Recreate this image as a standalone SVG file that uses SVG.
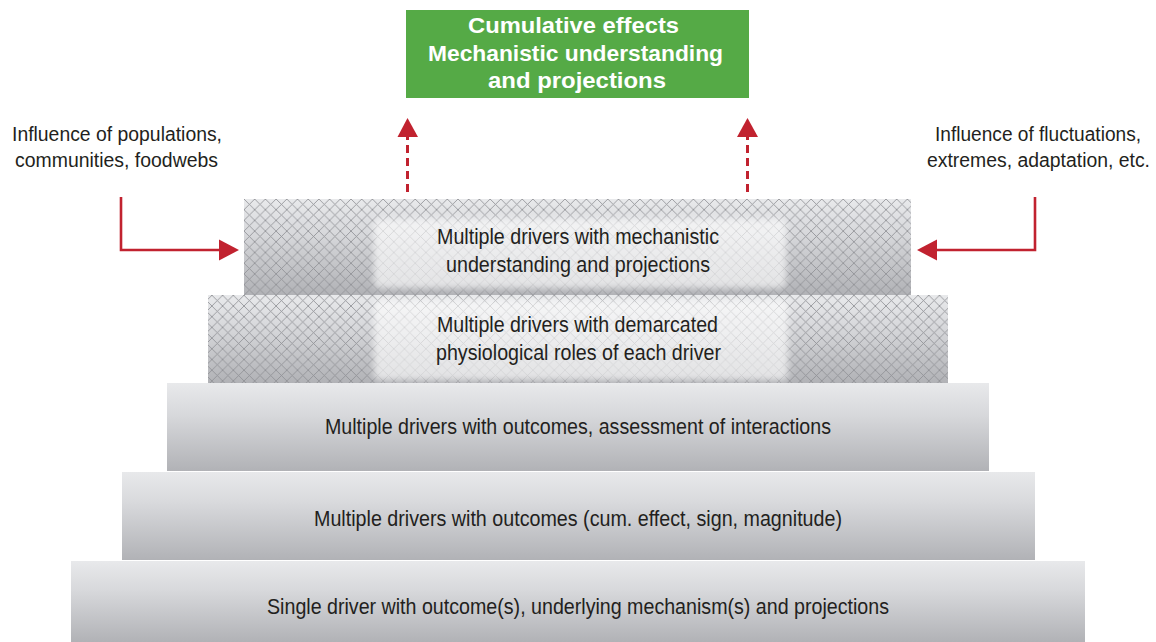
<svg xmlns="http://www.w3.org/2000/svg" width="1156" height="642" viewBox="0 0 1156 642">
  <defs>
    <linearGradient id="barGrad" x1="0" y1="0" x2="0" y2="1">
      <stop offset="0" stop-color="#e8e9eb"/>
      <stop offset="0.35" stop-color="#d8d9dc"/>
      <stop offset="1" stop-color="#b1b2b6"/>
    </linearGradient>
    <pattern id="hatch" patternUnits="userSpaceOnUse" width="10.7" height="10.7" x="244" y="199">
      <path d="M0,0 L10.7,10.7 M10.7,0 L0,10.7" stroke="#909195" stroke-width="0.85" fill="none"/>
    </pattern>
    <filter id="soft" x="-10%" y="-20%" width="120%" height="140%">
      <feGaussianBlur stdDeviation="3"/>
    </filter>
    <style>
      .bar { fill: url(#barGrad); }
      .hatch { fill: url(#hatch); }
      .glow { fill: #ffffff; fill-opacity: 0.62; filter: url(#soft); }
      .t { font-family: "Liberation Sans", Arial, sans-serif; font-size: 22.5px; fill: #231f20; text-anchor: middle; }
      .side { font-family: "Liberation Sans", Arial, sans-serif; font-size: 19.5px; fill: #231f20; text-anchor: middle; }
      .g { font-family: "Liberation Sans", Arial, sans-serif; font-size: 22px; font-weight: bold; fill: #ffffff; text-anchor: middle; }
      .arr { stroke: #c1222f; stroke-width: 2.6; fill: none; }
      .dash { stroke: #c1222f; stroke-width: 3; fill: none; stroke-dasharray: 8 5; }
      .head { fill: #c1222f; }
    </style>
  </defs>

  <g id="level1">
    <rect class="bar" x="71" y="561" width="1014" height="81"/>
    <text class="t" x="578" y="614" textLength="622" lengthAdjust="spacingAndGlyphs">Single driver with outcome(s), underlying mechanism(s) and projections</text>
  </g>

  <g id="level2">
    <rect class="bar" x="122" y="472" width="913" height="88"/>
    <text class="t" x="578" y="526" textLength="528" lengthAdjust="spacingAndGlyphs">Multiple drivers with outcomes (cum. effect, sign, magnitude)</text>
  </g>

  <g id="level3">
    <rect class="bar" x="167" y="383" width="822" height="88"/>
    <text class="t" x="578" y="434" textLength="506" lengthAdjust="spacingAndGlyphs">Multiple drivers with outcomes, assessment of interactions</text>
  </g>

  <g id="level4">
    <rect class="bar" x="208" y="295" width="740" height="88"/>
    <rect class="hatch" x="208" y="295" width="740" height="88"/>
    <rect class="glow" x="374" y="300" width="414" height="80" rx="6"/>
    <text class="t" x="577.5" y="332" textLength="281" lengthAdjust="spacingAndGlyphs">Multiple drivers with demarcated</text>
    <text class="t" x="578.5" y="360" textLength="285" lengthAdjust="spacingAndGlyphs">physiological roles of each driver</text>
  </g>

  <g id="level5">
    <rect class="bar" x="244" y="199" width="667" height="96"/>
    <rect class="hatch" x="244" y="199" width="667" height="96"/>
    <rect class="glow" x="374" y="219" width="412" height="69" rx="6"/>
    <text class="t" x="578" y="244" textLength="282" lengthAdjust="spacingAndGlyphs">Multiple drivers with mechanistic</text>
    <text class="t" x="578" y="272" textLength="264" lengthAdjust="spacingAndGlyphs">understanding and projections</text>
  </g>

  <g id="goal">
    <rect x="406" y="10" width="343" height="88" fill="#55aa46"/>
    <text class="g" x="573.5" y="33" textLength="211" lengthAdjust="spacingAndGlyphs">Cumulative effects</text>
    <text class="g" x="575.5" y="61" textLength="295" lengthAdjust="spacingAndGlyphs">Mechanistic understanding</text>
    <text class="g" x="577" y="88" textLength="178" lengthAdjust="spacingAndGlyphs">and projections</text>
  </g>

  <g id="label-left">
    <text class="side" x="117" y="141" textLength="210" lengthAdjust="spacingAndGlyphs">Influence of populations,</text>
    <text class="side" x="116.5" y="167" textLength="203" lengthAdjust="spacingAndGlyphs">communities, foodwebs</text>
  </g>

  <g id="label-right">
    <text class="side" x="1038" y="141" textLength="206" lengthAdjust="spacingAndGlyphs">Influence of fluctuations,</text>
    <text class="side" x="1038.5" y="167" textLength="223" lengthAdjust="spacingAndGlyphs">extremes, adaptation, etc.</text>
  </g>

  <g id="connectors">
    <polyline class="arr" points="121,197 121,250 221,250"/>
    <polygon class="head" points="239,250 219,239.5 219,260.5"/>
    <polyline class="arr" points="1035,197 1035,250 935,250"/>
    <polygon class="head" points="917,250 937,239.5 937,260.5"/>
    <line class="dash" x1="407.5" y1="192" x2="407.5" y2="135"/>
    <polygon class="head" points="407.5,118 397.5,137 418,137"/>
    <line class="dash" x1="747.5" y1="192" x2="747.5" y2="135"/>
    <polygon class="head" points="747.5,118 737,137 758,137"/>
  </g>
</svg>
